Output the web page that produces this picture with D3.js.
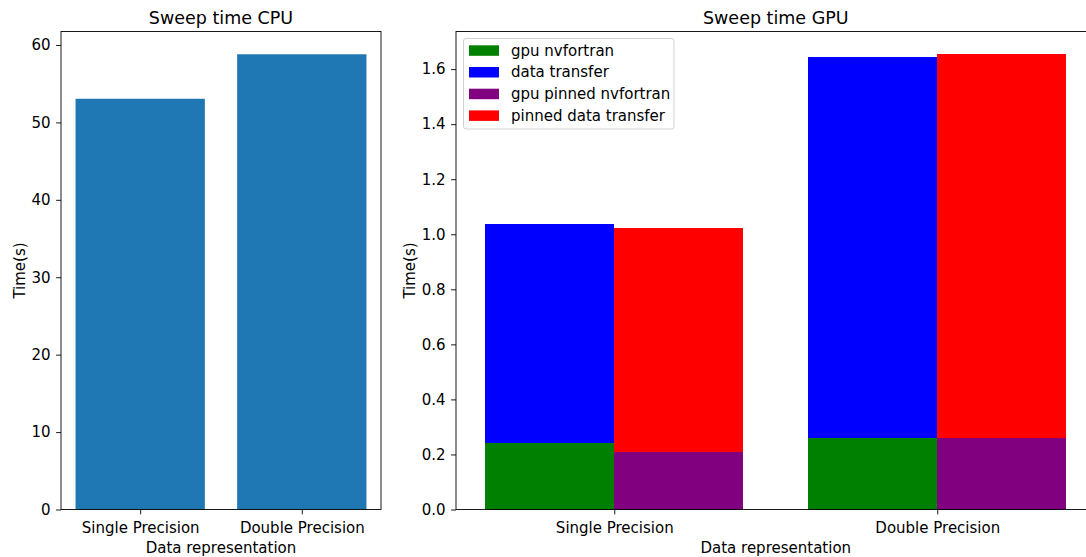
<!DOCTYPE html>
<html><head><meta charset="utf-8">
<script src="https://cdn.jsdelivr.net/npm/d3@7"></script>
<style>
html,body{margin:0;padding:0;background:#fff;}
svg text{font-family:"DejaVu Sans",sans-serif;fill:#000;}
</style></head>
<body>
<svg id="chart" width="1086" height="557"></svg>
<script>
const categories = ["Single Precision", "Double Precision"];
const cpuTimes = [53.05, 58.8];
const gpuNvfortran = [0.241, 0.259];
const dataTransfer = [0.797, 1.384];
const gpuPinnedNvfortran = [0.208, 0.259];
const pinnedDataTransfer = [0.816, 1.395];
const cpuTicks = [0, 10, 20, 30, 40, 50, 60];
const gpuTicks = [0.0, 0.2, 0.4, 0.6, 0.8, 1.0, 1.2, 1.4, 1.6];
const legendLabels = ["gpu nvfortran", "data transfer", "gpu pinned nvfortran", "pinned data transfer"];
const legendColors = ["green", "blue", "purple", "red"];

const svg = d3.select("#chart");
const plotTop = 31.5, plotBottom = 509.5;
const tickFont = "15px", titleFont = "17.5px";

function styleAxis(g){
  g.selectAll(".domain").remove();
  g.selectAll(".tick line").attr("stroke","#000").attr("stroke-width",0.9);
  g.selectAll(".tick text").style("font-size",tickFont).attr("fill","#000");
}

function panel(left, right, xDomain, yMax, yTicks, yFmt, title, ylabX){
  const x = d3.scaleLinear().domain(xDomain).range([left, right]);
  const y = d3.scaleLinear().domain([0, yMax]).range([plotBottom, plotTop]);
  const g = svg.append("g");
  return {x, y, g, finish(){
    const xa = g.append("g").attr("transform",`translate(0,${plotBottom})`)
      .call(d3.axisBottom(x).tickValues([0,1]).tickFormat(i=>categories[i]).tickSize(4.9).tickPadding(7.6));
    styleAxis(xa);
    const ya = g.append("g").attr("transform",`translate(${left},0)`)
      .call(d3.axisLeft(y).tickValues(yTicks).tickFormat(yFmt).tickSize(4.9).tickPadding(5.5));
    styleAxis(ya);
    g.append("rect").attr("x",left).attr("y",plotTop).attr("width",right-left).attr("height",plotBottom-plotTop)
      .attr("fill","none").attr("stroke","#000").attr("stroke-width",0.9);
    g.append("text").attr("x",(left+right)/2).attr("y",24).attr("text-anchor","middle")
      .style("font-size",titleFont).text(title);
    g.append("text").attr("x",(left+right)/2).attr("y",553.3).attr("text-anchor","middle")
      .style("font-size",tickFont).text("Data representation");
    g.append("text").attr("transform",`translate(${ylabX},${(plotTop+plotBottom)/2}) rotate(-90)`)
      .attr("text-anchor","middle").style("font-size",tickFont).text("Time(s)");
  }};
}

// CPU panel
const cpuMax = d3.max(cpuTimes)*1.05;
const p1 = panel(61, 381, [-0.49, 1.49], cpuMax, cpuTicks, d3.format("d"), "Sweep time CPU", 25);
p1.g.selectAll("rect.bar").data(cpuTimes).enter().append("rect").attr("class","bar")
  .attr("x",(d,i)=>p1.x(i-0.4)).attr("width",(d,i)=>p1.x(i+0.4)-p1.x(i-0.4))
  .attr("y",d=>p1.y(d)).attr("height",d=>p1.y(0)-p1.y(d)).attr("fill","#1f77b4");
p1.finish();

// GPU panel
const gpuTotals = categories.map((c,i)=>Math.max(gpuNvfortran[i]+dataTransfer[i], gpuPinnedNvfortran[i]+pinnedDataTransfer[i]));
const gpuMax = d3.max(gpuTotals)*1.05;
const unit = 323;
const gLeft = 456;
const p2 = panel(gLeft, gLeft + 1.98*unit, [-0.49, 1.49], gpuMax, gpuTicks, d3.format(".1f"), "Sweep time GPU", 415);
const series = [
  {vals: gpuNvfortran, base: null, off: -0.4, color: "green"},
  {vals: dataTransfer, base: gpuNvfortran, off: -0.4, color: "blue"},
  {vals: gpuPinnedNvfortran, base: null, off: 0, color: "purple"},
  {vals: pinnedDataTransfer, base: gpuPinnedNvfortran, off: 0, color: "red"}
];
series.forEach(s=>{
  p2.g.selectAll(null).data(s.vals).enter().append("rect")
    .attr("x",(d,i)=>p2.x(i+s.off)).attr("width",(d,i)=>p2.x(i+s.off+0.4)-p2.x(i+s.off))
    .attr("y",(d,i)=>p2.y(d+(s.base?s.base[i]:0)))
    .attr("height",(d,i)=>p2.y(s.base?s.base[i]:0)-p2.y(d+(s.base?s.base[i]:0)))
    .attr("fill",s.color).attr("shape-rendering","crispEdges");
});
p2.finish();
// Legend
const lg = svg.append("g");
lg.append("rect").attr("x",463.5).attr("y",38.5).attr("width",210.5).attr("height",90.5)
  .attr("rx",2.5).attr("fill","#fff").attr("fill-opacity",0.8).attr("stroke","#ccc").attr("stroke-width",0.9);
legendLabels.forEach((l,i)=>{
  const cy = 50.3 + i*21.7;
  lg.append("rect").attr("x",469).attr("y",cy-5).attr("width",30).attr("height",10.5).attr("fill",legendColors[i]);
  lg.append("text").attr("x",511).attr("y",cy+5.4).style("font-size",tickFont).text(l);
});
</script>
</body></html>
